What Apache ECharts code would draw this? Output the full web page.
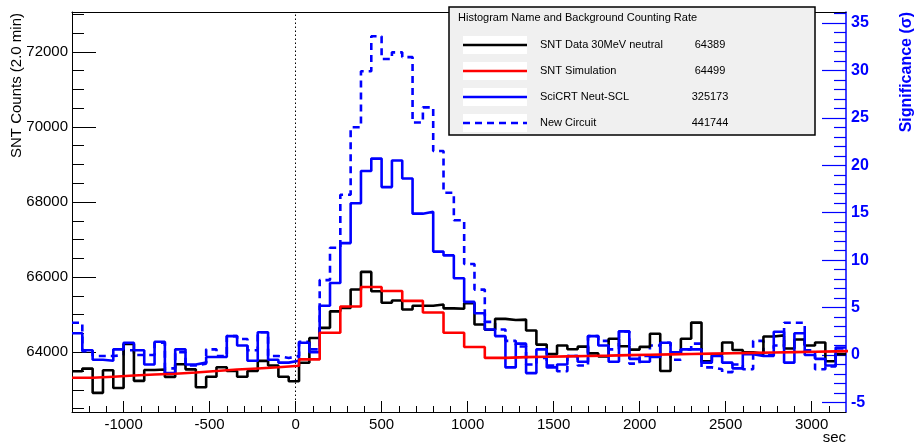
<!DOCTYPE html>
<html>
<head>
<meta charset="utf-8">
<script src="https://cdn.jsdelivr.net/npm/echarts@6/dist/echarts.min.js"></script>
<style>
html,body{margin:0;padding:0;background:#fff;}
#chart{width:920px;height:446px;}
</style>
</head>
<body>
<div id="chart"></div>
<script>
// ---- data ----
const binStart = -1300;          // sec, left edge of the first bin
const fineBinWidth = 60;         // sec, bins of data / SciCRT / new circuit
const coarseBinWidth = 120;      // sec, bins of the simulation

const seriesNames = ["SNT Data 30MeV neutral", "SNT Simulation", "SciCRT Neut-SCL", "New Circuit"];
const backgroundRates = ["64389", "64499", "325173", "441744"];
const legendTitle = "Histogram Name and Background Counting Rate";

const xTicks = [-1000, -500, 0, 500, 1000, 1500, 2000, 2500, 3000];
const leftTicks = [64000, 66000, 68000, 70000, 72000];
const rightTicks = [-5, 0, 5, 10, 15, 20, 25, 30, 35];

// SNT Data 30MeV neutral (counts per 2.0 min), 60 s bins
const sntData = [
  63494, 63566, 62920, 63520, 63050, 64220, 63240, 63530, 63540, 63345,
  63680, 63545, 63070, 63350, 63600, 63500, 63350, 63500, 63770, 63650,
  63350, 63230, 63720, 64380, 64650, 65090, 65180, 65670, 66140, 65625,
  65320, 65380, 65140, 65240, 65240, 65270, 65170, 65160, 65310, 64740,
  64600, 64890, 64860, 64870, 64580, 64205, 63950, 64180, 64080, 64150,
  63970, 63890, 64360, 64160, 64070, 64145, 64495, 63500, 63960, 64360,
  64790, 63760, 63930, 64260, 64060, 64000, 63960, 64420, 64450, 64100,
  64340, 64180, 64260, 63760, 63950
];
// SNT Simulation (counts), 120 s bins
const sntSim = [
  63320, 63350, 63380, 63410, 63430, 63460, 63500, 63540, 63570, 63600,
  63640, 63810, 64520, 65220, 65740, 65630, 65370, 65060, 64520, 64140,
  63850, 63870, 63880, 63890, 63900, 63910, 63925, 63935, 63945, 63955,
  63965, 63975, 63985, 63995, 64005, 64015, 64025, 64035
];
// SciCRT Neut-SCL (significance, sigma), 60 s bins
const scicrt = [
  2.3, 0.5, -0.5, -0.6, 0.6, 1.3, 0.5, -1.0, 1.4, -1.9,
  0.6, -1.0, -0.8, -0.2, -0.2, 2.0, 1.0, -0.6, 2.4, -0.5,
  -0.8, -0.6, 1.3, 0.3, 5.2, 7.6, 11.8, 16.0, 19.4, 20.7,
  17.7, 20.5, 18.6, 14.9, 15.1, 10.9, 10.5, 8.1, 5.6, 4.4,
  2.7, 2.0, -1.3, 1.2, -1.9, 0.6, -1.3, -1.0, -0.1, -0.7,
  2.0, 1.0, -0.7, 2.5, -0.4, -0.7, -0.2, 1.3, 0.3, 0.6,
  0.6, -0.8, -0.1, -0.8, -1.4, 0.1, -0.1, -0.1, 2.45, -0.8,
  2.3, 0.0, -0.4, -1.1, 0.8
];
// New Circuit (significance, sigma), 60 s bins
const newCircuit = [
  3.4, 0.4, -0.1, -0.1, 0.0, 0.5, 0.0, 0.0, 1.3, -1.4,
  0.3, -1.1, -0.9, 0.6, -0.1, 2.0, 1.7, 0.5, 2.4, -0.1,
  -0.3, -0.1, 1.4, 0.6, 7.9, 11.3, 16.9, 24.0, 29.9, 33.6,
  31.2, 31.9, 31.4, 24.5, 26.1, 21.5, 17.1, 14.2, 9.6, 6.9,
  3.5, 2.7, 1.5, 0.9, -1.0, -0.3, -1.1, -1.7, -0.1, -1.1,
  2.0, 1.5, 0.6, 2.5, -0.9, -0.1, 1.0, 1.3, -0.5, 0.6,
  1.2, -1.3, -1.5, -1.8, -1.0, -1.5, 1.5, 0.0, 1.0, 3.4,
  3.4, 0.5, -1.5, -1.2, 0.7
];

// ---- helpers ----
function histData(start, width, values) {
  const pts = values.map((v, i) => [start + i * width, v]);
  pts.push([start + values.length * width, values[values.length - 1]]);
  return pts;
}
function minorList(from, to, step, majors) {
  const out = [];
  for (let v = from; v <= to + 1e-9; v += step) {
    const r = Math.round(v * 1000) / 1000;
    if (!majors.includes(r)) out.push(r);
  }
  return out;
}
const plain = v => String(v);

const FONT = "'Liberation Sans', Arial, Helvetica, sans-serif";
const BLUE = "#0000ff";
const X_MIN = -1300, X_MAX = 3200;
const L_MIN = 62410, L_MAX = 73060;
const R_MIN = -6, R_MAX = 36.15;

const chart = echarts.init(document.getElementById('chart'), null, {renderer: 'canvas'});

const gridRect = {left: 72, right: 74, top: 12, bottom: 34};

const option = {
  animation: false,
  backgroundColor: '#ffffff',
  grid: Object.assign({containLabel: false}, gridRect),
  xAxis: [
    {
      type: 'value', min: X_MIN, max: X_MAX, position: 'bottom',
      axisLine: {show: true, onZero: false, lineStyle: {color: '#000', width: 1}},
      axisTick: {show: true, inside: true, length: 11, customValues: xTicks, lineStyle: {color: '#000'}},
      axisLabel: {show: true, customValues: xTicks, formatter: plain, fontSize: 15, color: '#000', fontFamily: FONT, margin: 5},
      splitLine: {show: false}
    },
    {
      type: 'value', min: X_MIN, max: X_MAX, position: 'bottom',
      axisLine: {show: false, onZero: false},
      axisTick: {show: true, inside: true, length: 6, customValues: minorList(-1200, 3100, 100, xTicks), lineStyle: {color: '#000'}},
      axisLabel: {show: false},
      splitLine: {show: false}
    },
    {
      type: 'value', min: X_MIN, max: X_MAX, position: 'top',
      axisLine: {show: true, onZero: false, lineStyle: {color: '#000', width: 1.2}},
      axisTick: {show: false}, axisLabel: {show: false}, splitLine: {show: false}
    }
  ],
  yAxis: [
    {
      type: 'value', min: L_MIN, max: L_MAX, position: 'left',
      axisLine: {show: true, onZero: false, lineStyle: {color: '#000', width: 1}},
      axisTick: {show: true, inside: true, length: 24, customValues: leftTicks, lineStyle: {color: '#000'}},
      axisLabel: {show: true, customValues: leftTicks, formatter: plain, fontSize: 15, color: '#000', fontFamily: FONT, margin: 4},
      splitLine: {show: false}
    },
    {
      type: 'value', min: L_MIN, max: L_MAX, position: 'left',
      axisLine: {show: false, onZero: false},
      axisTick: {show: true, inside: true, length: 12, customValues: minorList(62500, 73000, 500, leftTicks), lineStyle: {color: '#000'}},
      axisLabel: {show: false}, splitLine: {show: false}
    },
    {
      type: 'value', min: R_MIN, max: R_MAX, position: 'right',
      axisLine: {show: true, onZero: false, lineStyle: {color: BLUE, width: 1.5}},
      axisTick: {show: true, inside: true, length: 24, customValues: rightTicks, lineStyle: {color: BLUE, width: 1.2}},
      axisLabel: {show: true, customValues: rightTicks, formatter: plain, fontSize: 16, fontWeight: 'bold', color: BLUE, fontFamily: FONT, margin: 5},
      splitLine: {show: false}
    },
    {
      type: 'value', min: R_MIN, max: R_MAX, position: 'right',
      axisLine: {show: false, onZero: false},
      axisTick: {show: true, inside: true, length: 12, customValues: minorList(-5, 36, 1, rightTicks), lineStyle: {color: BLUE, width: 1.2}},
      axisLabel: {show: false}, splitLine: {show: false}
    }
  ],
  series: [
    {
      name: seriesNames[3], type: 'line', step: 'end', xAxisIndex: 0, yAxisIndex: 2,
      data: histData(binStart, fineBinWidth, newCircuit),
      showSymbol: false, symbol: 'none', z: 2,
      lineStyle: {color: BLUE, width: 2.6, type: [7, 5]}
    },
    {
      name: seriesNames[0], type: 'line', step: 'end', xAxisIndex: 0, yAxisIndex: 0,
      data: histData(binStart, fineBinWidth, sntData),
      showSymbol: false, symbol: 'none', z: 3,
      lineStyle: {color: '#000', width: 2.6},
      markLine: {
        silent: true, symbol: ['none', 'none'], label: {show: false},
        lineStyle: {color: '#000', type: [1.5, 2.5], width: 1},
        data: [{xAxis: 0}]
      }
    },
    {
      name: seriesNames[2], type: 'line', step: 'end', xAxisIndex: 0, yAxisIndex: 2,
      data: histData(binStart, fineBinWidth, scicrt),
      showSymbol: false, symbol: 'none', z: 4,
      lineStyle: {color: BLUE, width: 2.6}
    },
    {
      name: seriesNames[1], type: 'line', step: 'end', xAxisIndex: 0, yAxisIndex: 0,
      data: histData(binStart, coarseBinWidth, sntSim),
      showSymbol: false, symbol: 'none', z: 5,
      lineStyle: {color: '#ff0000', width: 2.6}
    }
  ],
  graphic: []
};

// legend box (graphic overlay)
const box = {x: 449, y: 7, w: 366, h: 128};
const rowY = [45, 71, 97, 123];
const sampleStyles = [
  {stroke: '#000', lineWidth: 2.5},
  {stroke: '#ff0000', lineWidth: 2.5},
  {stroke: BLUE, lineWidth: 2.5},
  {stroke: BLUE, lineWidth: 2.5, lineDash: [7, 5]}
];
const g = [];
g.push({type: 'rect', z: 100, shape: {x: box.x, y: box.y, width: box.w, height: box.h},
  style: {fill: '#f0f0f0', stroke: '#000', lineWidth: 1.5}});
g.push({type: 'text', z: 101, x: box.x + 9, y: box.y + 11,
  style: {text: legendTitle, font: '11px ' + FONT, fill: '#000', textVerticalAlign: 'middle'}});
for (let i = 0; i < 4; i++) {
  g.push({type: 'rect', z: 101, shape: {x: 463, y: rowY[i] - 9, width: 64, height: 18}, style: {fill: '#ffffff'}});
  g.push({type: 'line', z: 102, shape: {x1: 463, y1: rowY[i], x2: 527, y2: rowY[i]}, style: sampleStyles[i]});
  g.push({type: 'text', z: 102, x: 540, y: rowY[i],
    style: {text: seriesNames[i], font: '11px ' + FONT, fill: '#000', textVerticalAlign: 'middle'}});
  g.push({type: 'text', z: 102, x: 710, y: rowY[i],
    style: {text: backgroundRates[i], font: '11px ' + FONT, fill: '#000', textAlign: 'center', textVerticalAlign: 'middle'}});
}
// axis titles
g.push({type: 'text', x: 17, y: 13, rotation: Math.PI / 2,
  style: {text: 'SNT Counts (2.0 min)', font: '15px ' + FONT, fill: '#000', textAlign: 'right', textVerticalAlign: 'middle'}});
g.push({type: 'text', x: 907, y: 12, rotation: Math.PI / 2,
  style: {text: 'Significance (\u03c3)', font: 'bold 16px ' + FONT, fill: BLUE, textAlign: 'right', textVerticalAlign: 'middle'}});
g.push({type: 'text', x: 846, y: 438,
  style: {text: 'sec', font: '15px ' + FONT, fill: '#000', textAlign: 'right', textVerticalAlign: 'middle'}});
option.graphic = g;

chart.setOption(option);
</script>
</body>
</html>
